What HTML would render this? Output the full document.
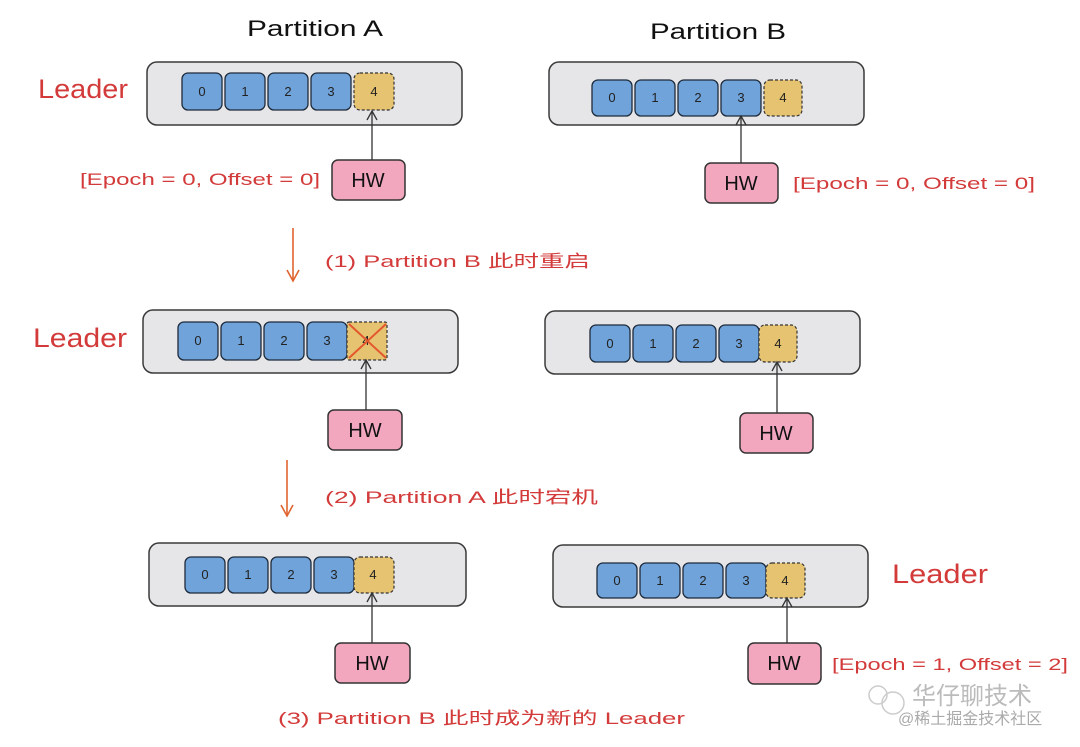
<!DOCTYPE html>
<html><head><meta charset="utf-8"><style>
body{margin:0;background:#fff;width:1080px;height:747px;overflow:hidden}
svg{display:block}
text{font-family:"Liberation Sans","Noto Sans CJK SC",sans-serif}
.box{fill:#e6e6e8;stroke:#3a3a3a;stroke-width:1.5}
.c{fill:#6fa3da;stroke:#1e2a3a;stroke-width:1.3}
.y{fill:#e6c370;stroke:#333;stroke-width:1.2;stroke-dasharray:3 2}
.hw{fill:#f2a7bf;stroke:#333;stroke-width:1.5}
.n{font-size:13px;fill:#222;text-anchor:middle}
.h{font-size:20px;fill:#111;text-anchor:middle}
.r{fill:#d33a3a;font-size:17px}
.ld{fill:#d33a3a;font-size:27px}
.ln{stroke:#333;stroke-width:1.3;fill:none}
.oa{stroke:#e0642f;stroke-width:1.6;fill:none}
</style></head><body>
<svg width="1080" height="747" viewBox="0 0 1080 747">
<text x="247" y="36" font-size="22" fill="#111" textLength="136" lengthAdjust="spacingAndGlyphs">Partition A</text>
<text x="650" y="39" font-size="22" fill="#111" textLength="136" lengthAdjust="spacingAndGlyphs">Partition B</text>

<text class="ld" x="38" y="98" textLength="90" lengthAdjust="spacingAndGlyphs">Leader</text>
<text class="ld" x="33" y="347" textLength="94" lengthAdjust="spacingAndGlyphs">Leader</text>
<text class="ld" x="892" y="583" textLength="96" lengthAdjust="spacingAndGlyphs">Leader</text>

<!-- Row1 A -->
<rect class="box" x="147" y="62" width="315" height="63" rx="10"/>
<rect class="c" x="182" y="73" width="40" height="37" rx="6"/><text class="n" x="202" y="96">0</text>
<rect class="c" x="225" y="73" width="40" height="37" rx="6"/><text class="n" x="245" y="96">1</text>
<rect class="c" x="268" y="73" width="40" height="37" rx="6"/><text class="n" x="288" y="96">2</text>
<rect class="c" x="311" y="73" width="40" height="37" rx="6"/><text class="n" x="331" y="96">3</text>
<rect class="y" x="354" y="73" width="40" height="37" rx="6"/><text class="n" x="374" y="96">4</text>
<line class="ln" x1="372" y1="160" x2="372" y2="112"/><path class="ln" d="M367 120 L372 111 L377 120"/>
<rect class="hw" x="332" y="160" width="73" height="40" rx="6"/><text class="h" x="368" y="187">HW</text>
<text class="r" x="80" y="185" textLength="240" lengthAdjust="spacingAndGlyphs">[Epoch = 0, Offset = 0]</text>

<!-- Row1 B -->
<rect class="box" x="549" y="62" width="315" height="63" rx="10"/>
<rect class="c" x="592" y="80" width="40" height="36" rx="6"/><text class="n" x="612" y="102">0</text>
<rect class="c" x="635" y="80" width="40" height="36" rx="6"/><text class="n" x="655" y="102">1</text>
<rect class="c" x="678" y="80" width="40" height="36" rx="6"/><text class="n" x="698" y="102">2</text>
<rect class="c" x="721" y="80" width="40" height="36" rx="6"/><text class="n" x="741" y="102">3</text>
<rect class="y" x="764" y="80" width="38" height="36" rx="6"/><text class="n" x="783" y="102">4</text>
<line class="ln" x1="741" y1="163" x2="741" y2="117"/><path class="ln" d="M736 125 L741 116 L746 125"/>
<rect class="hw" x="705" y="163" width="73" height="40" rx="6"/><text class="h" x="741" y="190">HW</text>
<text class="r" x="793" y="189" textLength="242" lengthAdjust="spacingAndGlyphs">[Epoch = 0, Offset = 0]</text>

<!-- arrow 1 -->
<line class="oa" x1="293" y1="228" x2="293" y2="280"/><path class="oa" d="M287 270 L293 281 L299 270"/>
<text class="r" x="325" y="267" font-size="20" textLength="265" lengthAdjust="spacingAndGlyphs">(1) Partition B 此时重启</text>

<!-- Row2 A -->
<rect class="box" x="143" y="310" width="315" height="63" rx="10"/>
<rect class="c" x="178" y="322" width="40" height="38" rx="6"/><text class="n" x="198" y="345">0</text>
<rect class="c" x="221" y="322" width="40" height="38" rx="6"/><text class="n" x="241" y="345">1</text>
<rect class="c" x="264" y="322" width="40" height="38" rx="6"/><text class="n" x="284" y="345">2</text>
<rect class="c" x="307" y="322" width="40" height="38" rx="6"/><text class="n" x="327" y="345">3</text>
<rect class="y" x="347" y="322" width="40" height="38" rx="2"/><text class="n" x="366" y="345">4</text>
<path d="M349 324 L386 358 M386 324 L349 358" stroke="#e4572e" stroke-width="2" fill="none"/>
<line class="ln" x1="366" y1="410" x2="366" y2="361"/><path class="ln" d="M361 369 L366 360 L371 369"/>
<rect class="hw" x="328" y="410" width="74" height="40" rx="6"/><text class="h" x="365" y="437">HW</text>

<!-- Row2 B -->
<rect class="box" x="545" y="311" width="315" height="63" rx="10"/>
<rect class="c" x="590" y="325" width="40" height="37" rx="6"/><text class="n" x="610" y="348">0</text>
<rect class="c" x="633" y="325" width="40" height="37" rx="6"/><text class="n" x="653" y="348">1</text>
<rect class="c" x="676" y="325" width="40" height="37" rx="6"/><text class="n" x="696" y="348">2</text>
<rect class="c" x="719" y="325" width="40" height="37" rx="6"/><text class="n" x="739" y="348">3</text>
<rect class="y" x="759" y="325" width="38" height="37" rx="6"/><text class="n" x="778" y="348">4</text>
<line class="ln" x1="777" y1="413" x2="777" y2="363"/><path class="ln" d="M772 371 L777 362 L782 371"/>
<rect class="hw" x="740" y="413" width="73" height="40" rx="6"/><text class="h" x="776" y="440">HW</text>

<!-- arrow 2 -->
<line class="oa" x1="287" y1="460" x2="287" y2="515"/><path class="oa" d="M281 505 L287 516 L293 505"/>
<text class="r" x="325" y="503" font-size="20" textLength="273" lengthAdjust="spacingAndGlyphs">(2) Partition A 此时宕机</text>

<!-- Row3 A -->
<rect class="box" x="149" y="543" width="317" height="63" rx="10"/>
<rect class="c" x="185" y="557" width="40" height="36" rx="6"/><text class="n" x="205" y="579">0</text>
<rect class="c" x="228" y="557" width="40" height="36" rx="6"/><text class="n" x="248" y="579">1</text>
<rect class="c" x="271" y="557" width="40" height="36" rx="6"/><text class="n" x="291" y="579">2</text>
<rect class="c" x="314" y="557" width="40" height="36" rx="6"/><text class="n" x="334" y="579">3</text>
<rect class="y" x="354" y="557" width="40" height="36" rx="6"/><text class="n" x="373" y="579">4</text>
<line class="ln" x1="372" y1="643" x2="372" y2="594"/><path class="ln" d="M367 602 L372 593 L377 602"/>
<rect class="hw" x="335" y="643" width="75" height="40" rx="6"/><text class="h" x="372" y="670">HW</text>

<!-- Row3 B -->
<rect class="box" x="553" y="545" width="315" height="62" rx="10"/>
<rect class="c" x="597" y="563" width="40" height="35" rx="6"/><text class="n" x="617" y="585">0</text>
<rect class="c" x="640" y="563" width="40" height="35" rx="6"/><text class="n" x="660" y="585">1</text>
<rect class="c" x="683" y="563" width="40" height="35" rx="6"/><text class="n" x="703" y="585">2</text>
<rect class="c" x="726" y="563" width="40" height="35" rx="6"/><text class="n" x="746" y="585">3</text>
<rect class="y" x="766" y="563" width="39" height="35" rx="6"/><text class="n" x="785" y="585">4</text>
<line class="ln" x1="787" y1="643" x2="787" y2="599"/><path class="ln" d="M782 607 L787 598 L792 607"/>
<rect class="hw" x="748" y="643" width="73" height="41" rx="6"/><text class="h" x="784" y="670">HW</text>
<text class="r" x="832" y="670" textLength="236" lengthAdjust="spacingAndGlyphs">[Epoch = 1, Offset = 2]</text>

<text class="r" x="278" y="724" font-size="20" textLength="407" lengthAdjust="spacingAndGlyphs">(3) Partition B 此时成为新的 Leader</text>

<!-- watermark -->
<circle cx="878" cy="695" r="9" fill="none" stroke="#ccc" stroke-width="1.5"/>
<circle cx="893" cy="703" r="11" fill="none" stroke="#ccc" stroke-width="1.5"/>
<text x="912" y="704" font-size="24" fill="#bbb">华仔聊技术</text>
<text x="898" y="724" font-size="16" fill="#aaa">@稀土掘金技术社区</text>
</svg>
</body></html>
